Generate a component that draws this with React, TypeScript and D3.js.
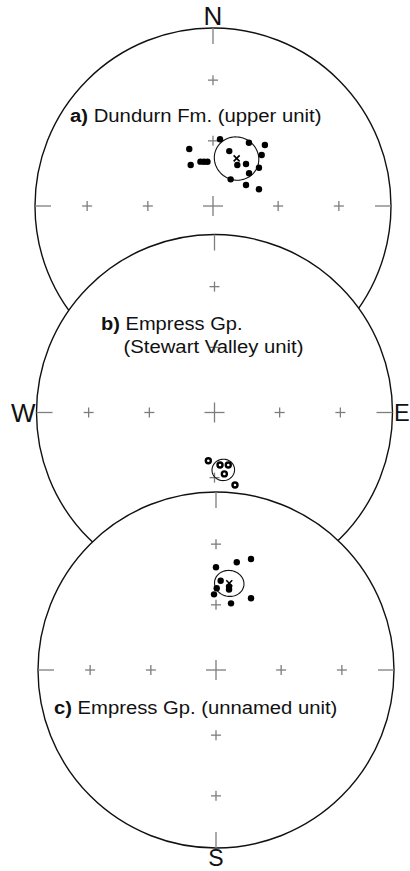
import React from "react";
import * as d3 from "d3";

const WIDTH = 410;
const HEIGHT = 871;
const RADIUS = 178;

// grid: small crosses at these inclinations on the four cardinal axes
const gridInclinations = [30, 60];
const gridDeclinations = [0, 90, 180, 270];

// a) Dundurn Fm. (upper unit) — lower hemisphere directions
const decA = [6.0, 29.6, 40.4, 337.4, 16.5, 43.7, 30.7, 38.2, 344.2, 348.5, 352.9, 331.5, 50.2, 47.8, 33.5, 57.5, 70.0];
const incA = [59.1, 56.4, 52.9, 61.6, 63.7, 57.5, 68.2, 65.5, 68.9, 69.3, 69.6, 68.6, 62.5, 67.7, 75.4, 72.1, 67.6];
const meanA = [26.4, 65.6, 10.0]; // dec, inc, a95

// b) Empress Gp. (Stewart Valley unit) — upper hemisphere directions
const decB = [187.3, 174.0, 165.3, 170.9, 164.2];
const incB = [-67.7, -65.8, -65.1, -61.4, -55.2];
const meanB = [171.3, -63.3, 5.0];

// c) Empress Gp. (unnamed unit) — lower hemisphere directions
const decC = [17.5, 10.9, 0.0, 3.0, 0.5, 358.5, 8.9, 9.2, 26.0, 12.7];
const incC = [34.9, 38.3, 41.8, 48.4, 52.1, 55.0, 50.9, 52.2, 53.0, 58.5];
const meanC = [8.7, 49.2, 6.3];

const rScale = d3.scaleLinear().domain([0, 1]).range([0, RADIUS]);
const rad = Math.PI / 180;

function project(dec: number, inc: number, cx: number, cy: number): [number, number] {
  const rn = Math.SQRT2 * Math.sin(((90 - Math.abs(inc)) / 2) * rad);
  const r = rScale(rn);
  return [cx + r * Math.sin(dec * rad), cy - r * Math.cos(dec * rad)];
}

function cone(dec: number, inc: number, a95: number, cx: number, cy: number) {
  const m = [Math.cos(inc * rad) * Math.cos(dec * rad), Math.cos(inc * rad) * Math.sin(dec * rad), Math.sin(inc * rad)];
  const ref = Math.abs(m[2]) < 0.9 ? [0, 0, 1] : [1, 0, 0];
  const cross = (a: number[], b: number[]) => [a[1] * b[2] - a[2] * b[1], a[2] * b[0] - a[0] * b[2], a[0] * b[1] - a[1] * b[0]];
  const norm = (a: number[]) => { const l = Math.hypot(a[0], a[1], a[2]); return a.map((v) => v / l); };
  const u = norm(cross(m, ref));
  const w = norm(cross(m, u));
  const pts: [number, number][] = d3.range(0, 360, 5).map((t) => {
    const ca = Math.cos(a95 * rad), sa = Math.sin(a95 * rad);
    const v = [0, 1, 2].map((k) => ca * m[k] + sa * (Math.cos(t * rad) * u[k] + Math.sin(t * rad) * w[k]));
    const i = Math.asin(Math.max(-1, Math.min(1, v[2]))) / rad;
    const d = Math.atan2(v[1], v[0]) / rad;
    return project(d, i, cx, cy);
  });
  return d3.line().curve(d3.curveLinearClosed)(pts) || "";
}

const GRAY = "#7d7d7d";
const FONT = "'Liberation Sans', Arial, Helvetica, sans-serif";

function Net({ cx, cy, decs, incs, mean, showMeanX }: { cx: number; cy: number; decs: number[]; incs: number[]; mean: number[]; showMeanX: boolean }) {
  const tick = 16;
  const crosses: [number, number][] = [];
  gridInclinations.forEach((inc) => gridDeclinations.forEach((dec) => crosses.push(project(dec, inc, cx, cy))));
  const [mx, my] = project(mean[0], mean[1], cx, cy);
  return (
    <g>
      <circle cx={cx} cy={cy} r={RADIUS} fill="#fff" stroke="#111" strokeWidth={1.4} />
      <g stroke={GRAY} strokeWidth={1.3}>
        <line x1={cx} x2={cx} y1={cy - RADIUS} y2={cy - RADIUS + tick} />
        <line x1={cx} x2={cx} y1={cy + RADIUS} y2={cy + RADIUS - tick} />
        <line x1={cx - RADIUS} x2={cx - RADIUS + tick} y1={cy} y2={cy} />
        <line x1={cx + RADIUS} x2={cx + RADIUS - tick} y1={cy} y2={cy} />
        <line x1={cx - 10} x2={cx + 10} y1={cy} y2={cy} />
        <line x1={cx} x2={cx} y1={cy - 10} y2={cy + 10} />
        {crosses.map(([x, y], i) => (
          <g key={i}>
            <line x1={x - 5} x2={x + 5} y1={y} y2={y} />
            <line x1={x} x2={x} y1={y - 5} y2={y + 5} />
          </g>
        ))}
      </g>
      <path d={cone(mean[0], mean[1], mean[2], cx, cy)} fill="none" stroke="#111" strokeWidth={1.1} />
      {decs.map((d, i) => {
        const [x, y] = project(d, incs[i], cx, cy);
        return incs[i] >= 0 ? (
          <circle key={i} cx={x} cy={y} r={3.2} fill="#000" />
        ) : (
          <circle key={i} cx={x} cy={y} r={2.5} fill="#fff" stroke="#000" strokeWidth={2.4} />
        );
      })}
      {showMeanX && (
        <g stroke="#000" strokeWidth={1.6}>
          <line x1={mx - 3} x2={mx + 3} y1={my - 3} y2={my + 3} />
          <line x1={mx - 3} x2={mx + 3} y1={my + 3} y2={my - 3} />
        </g>
      )}
    </g>
  );
}

export default function App() {
  const A = { cx: 213, cy: 206 };
  const B = { cx: 214.5, cy: 412.5 };
  const C = { cx: 216, cy: 670 };
  return (
    <svg width={WIDTH} height={HEIGHT} style={{ position: "absolute", left: 0, top: 0, background: "#fff" }} fontFamily={FONT}>
      <rect width={WIDTH} height={HEIGHT} fill="#fff" />
      <Net cx={A.cx} cy={A.cy} decs={decA} incs={incA} mean={meanA} showMeanX={true} />
      <text x={70} y={122} fontSize={17.5} fill="#111" textLength={251.5} lengthAdjust="spacingAndGlyphs">
        <tspan fontWeight="bold">a)</tspan> Dundurn Fm. (upper unit)
      </text>
      <Net cx={B.cx} cy={B.cy} decs={decB} incs={incB} mean={meanB} showMeanX={false} />
      <text x={101} y={330} fontSize={17.5} fill="#111" textLength={141.5} lengthAdjust="spacingAndGlyphs">
        <tspan fontWeight="bold">b)</tspan> Empress Gp.
      </text>
      <text x={123.5} y={352.5} fontSize={17.5} fill="#111" textLength={180} lengthAdjust="spacingAndGlyphs">
        (Stewart Valley unit)
      </text>
      <Net cx={C.cx} cy={C.cy} decs={decC} incs={incC} mean={meanC} showMeanX={true} />
      <text x={54} y={714} fontSize={17.5} fill="#111" textLength={283.3} lengthAdjust="spacingAndGlyphs">
        <tspan fontWeight="bold">c)</tspan> Empress Gp. (unnamed unit)
      </text>
      <g fontSize={26} fill="#111">
        <text x={A.cx} y={25} textAnchor="middle">N</text>
        <text x={B.cx - RADIUS - 1} y={421.5} textAnchor="end">W</text>
        <text x={B.cx + RADIUS + 1.5} y={421} fontSize={23.5}>E</text>
        <text x={C.cx} y={866} fontSize={23} textAnchor="middle">S</text>
      </g>
    </svg>
  );
}
